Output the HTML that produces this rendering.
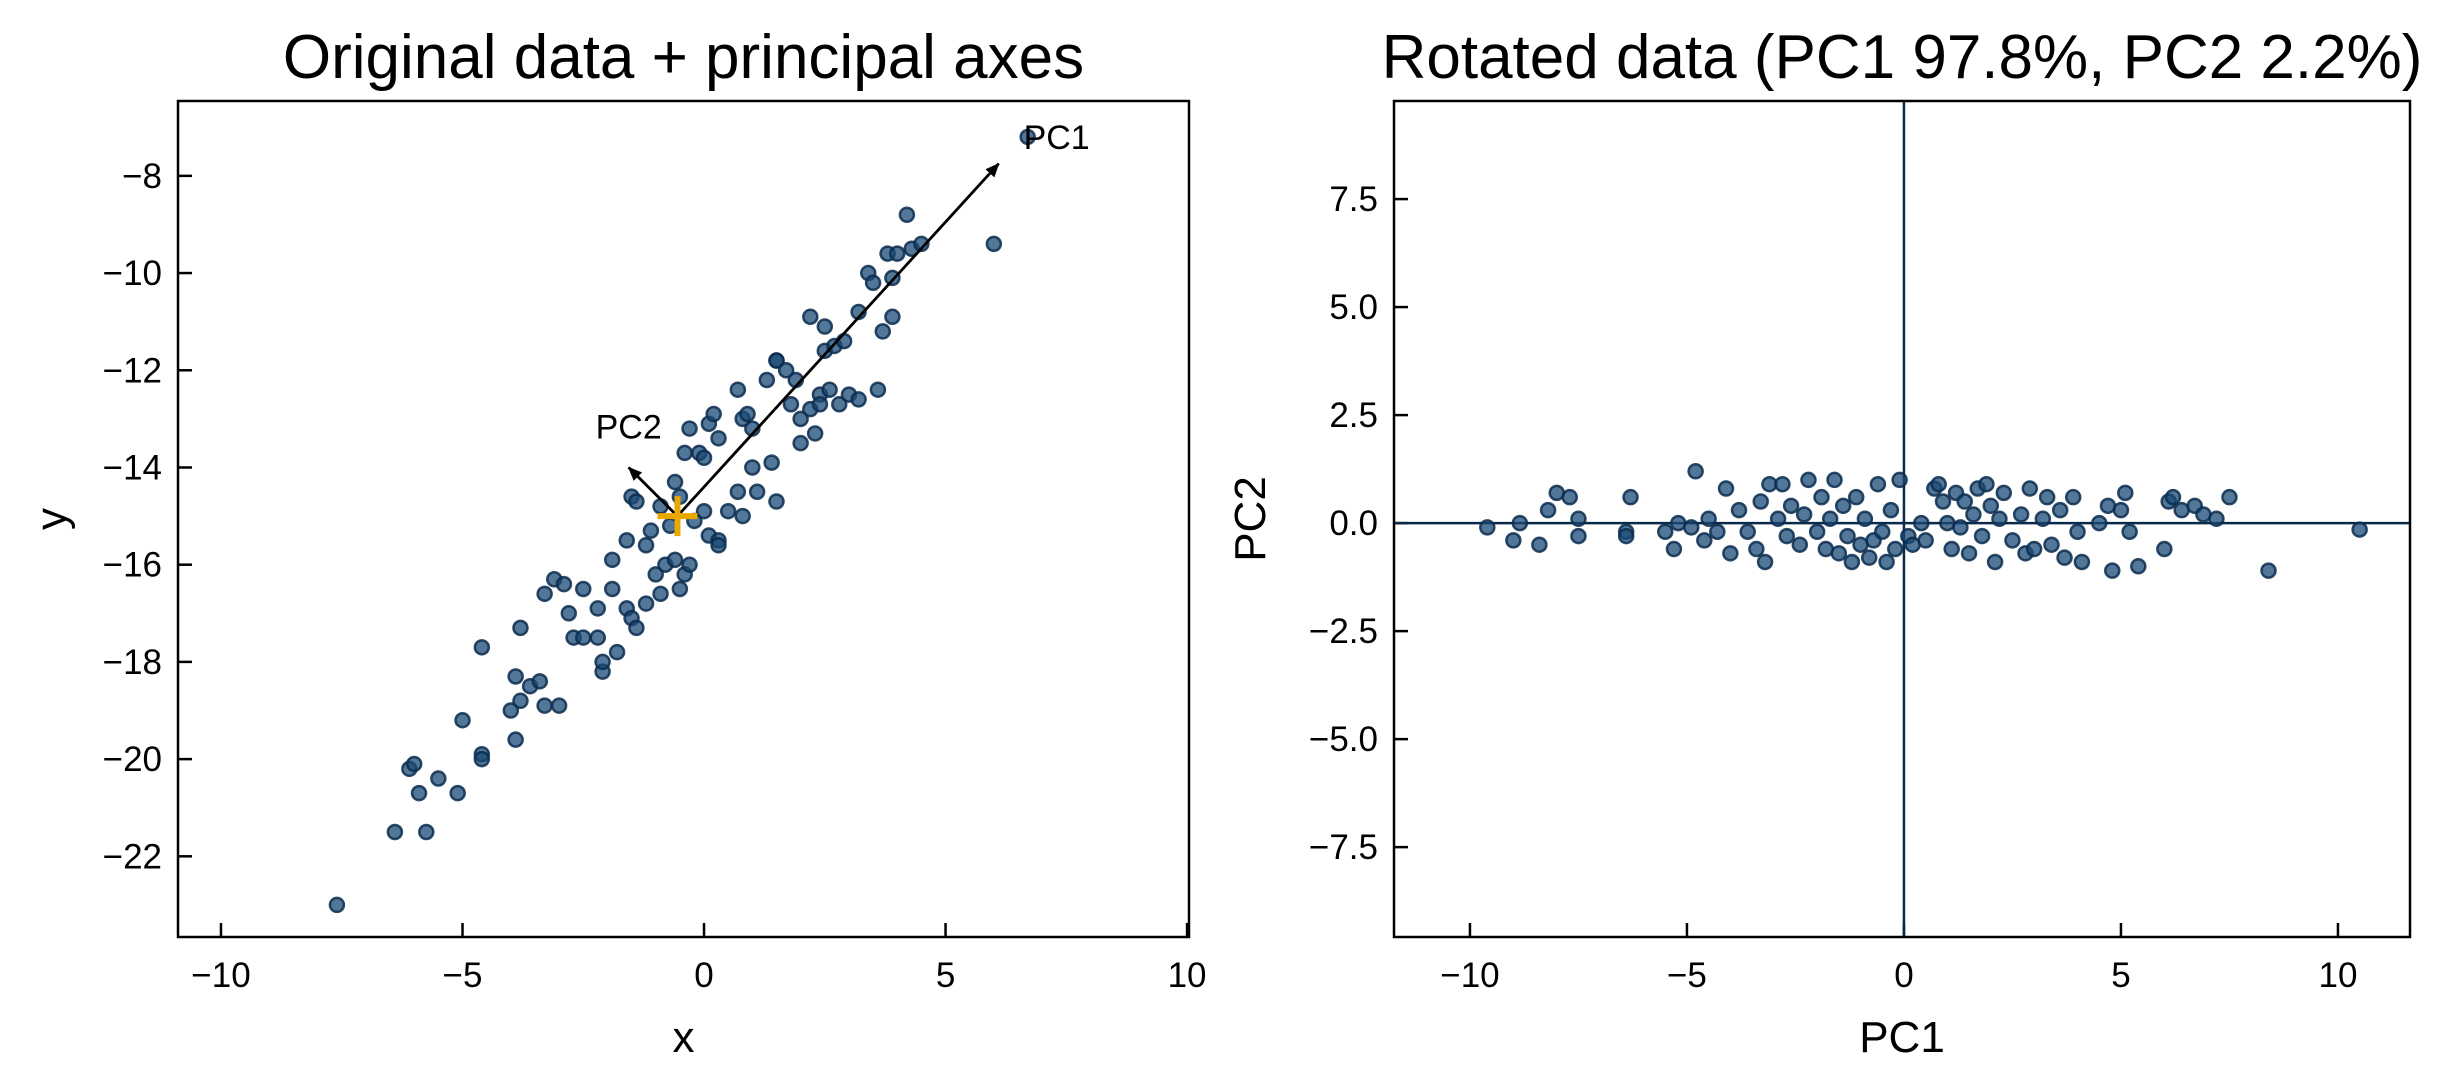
<!DOCTYPE html>
<html><head><meta charset="utf-8"><style>
html,body{margin:0;padding:0;background:#fff}
svg{display:block}
text{font-family:"Liberation Sans",sans-serif;fill:#000}
</style></head><body>
<svg id="fig" width="2454" height="1084" viewBox="0 0 2454 1084" xmlns="http://www.w3.org/2000/svg"></svg>
<script>
const origX=[-7.6,-6.4,-5.75,-6.1,-6.0,-5.9,-5.5,-5.1,-4.6,-4.6,-5.0,-4.0,-3.9,-3.8,-3.6,-3.4,-3.3,-3.0,-3.9,-4.6,-3.8,-3.3,-3.1,-2.9,-2.8,-2.7,-2.5,-2.2,-2.5,-2.2,-2.1,-2.1,-1.9,-1.8,-1.6,-1.5,-1.4,-1.2,-1.9,-1.6,-1.2,-1.1,-1.5,-1.4,-1.0,-0.8,-0.6,-0.4,-0.3,-0.7,-0.9,-0.5,-0.6,-0.4,-0.1,0.0,-0.3,0.1,0.2,0.3,0.1,0.3,0.5,0.7,1.0,1.1,1.4,1.0,0.8,0.7,1.3,0.9,1.5,1.7,1.9,1.8,2.0,2.2,2.4,2.3,2.0,2.4,2.6,2.8,3.0,3.2,2.2,2.5,2.5,2.7,2.9,3.2,3.4,3.5,3.8,3.9,4.0,4.3,4.5,4.2,3.7,3.9,3.6,1.5,0.8,-0.2,0.0,0.3,6.0,6.7,1.5,-0.5,-0.9];
const origY=[-23,-21.5,-21.5,-20.2,-20.1,-20.7,-20.4,-20.7,-19.9,-20.0,-19.2,-19.0,-19.6,-18.8,-18.5,-18.4,-18.9,-18.9,-18.3,-17.7,-17.3,-16.6,-16.3,-16.4,-17.0,-17.5,-17.5,-17.5,-16.5,-16.9,-18.2,-18.0,-16.5,-17.8,-16.9,-17.1,-17.3,-16.8,-15.9,-15.5,-15.6,-15.3,-14.6,-14.7,-16.2,-16.0,-15.9,-16.2,-16.0,-15.2,-14.8,-14.6,-14.3,-13.7,-13.7,-13.8,-13.2,-13.1,-12.9,-13.4,-15.4,-15.5,-14.9,-14.5,-14.0,-14.5,-13.9,-13.2,-13.0,-12.4,-12.2,-12.9,-11.8,-12.0,-12.2,-12.7,-13.0,-12.8,-12.5,-13.3,-13.5,-12.7,-12.4,-12.7,-12.5,-12.6,-10.9,-11.1,-11.6,-11.5,-11.4,-10.8,-10.0,-10.2,-9.6,-10.1,-9.6,-9.5,-9.4,-8.8,-11.2,-10.9,-12.4,-14.7,-15.0,-15.1,-14.9,-15.6,-9.4,-7.2,-11.8,-16.5,-16.6];
const rotX=[-9.6,10.5,-8.85,-8.4,-8.0,-7.7,-8.2,-7.5,-7.5,-6.4,-6.3,-6.4,-5.5,-5.3,-5.2,-4.9,-4.8,-4.6,-4.5,-4.3,-4.1,-4.0,-3.8,-3.6,-3.4,-3.3,-3.2,-3.1,-2.9,-2.8,-2.7,-2.6,-2.4,-2.3,-2.2,-2.0,-1.9,-1.8,-1.7,-1.6,-1.5,-1.4,-1.3,-1.2,-1.1,-1.0,-0.9,-0.8,-0.7,-0.6,-0.5,-0.4,-0.3,-0.2,-0.1,0.1,0.2,0.4,0.5,0.7,0.8,0.9,1.0,1.1,1.2,1.3,1.4,1.5,1.6,1.7,1.8,1.9,2.0,2.1,2.2,2.3,2.5,2.7,2.8,2.9,3.0,3.2,3.3,3.4,3.6,3.7,3.9,4.0,4.1,4.5,4.7,4.8,5.0,5.1,5.2,5.4,6.0,6.1,6.2,6.4,6.7,6.9,7.2,7.5,8.4,-9.0];
const rotY=[-0.1,-0.15,0,-0.5,0.7,0.6,0.3,0.1,-0.3,-0.2,0.6,-0.3,-0.2,-0.6,0.0,-0.1,1.2,-0.4,0.1,-0.2,0.8,-0.7,0.3,-0.2,-0.6,0.5,-0.9,0.9,0.1,0.9,-0.3,0.4,-0.5,0.2,1.0,-0.2,0.6,-0.6,0.1,1.0,-0.7,0.4,-0.3,-0.9,0.6,-0.5,0.1,-0.8,-0.4,0.9,-0.2,-0.9,0.3,-0.6,1.0,-0.3,-0.5,0.0,-0.4,0.8,0.9,0.5,0.0,-0.6,0.7,-0.1,0.5,-0.7,0.2,0.8,-0.3,0.9,0.4,-0.9,0.1,0.7,-0.4,0.2,-0.7,0.8,-0.6,0.1,0.6,-0.5,0.3,-0.8,0.6,-0.2,-0.9,0.0,0.4,-1.1,0.3,0.7,-0.2,-1.0,-0.6,0.5,0.6,0.3,0.4,0.2,0.1,0.6,-1.1,-0.4];
const meanPt=[-0.55,-15.0];
const pc1Tip=[6.1,-7.75];
const pc2Tip=[-1.56,-14.0];
const leftXTicks=[-10,-5,0,5,10];
const leftYTicks=[-8,-10,-12,-14,-16,-18,-20,-22];
const rightXTicks=[-10,-5,0,5,10];
const rightYTicks=[7.5,5.0,2.5,0.0,-2.5,-5.0,-7.5];

const NS='http://www.w3.org/2000/svg';
const svg=document.getElementById('fig');
function mk(tag,attrs,parent,name,inter){const e=document.createElementNS(NS,tag);for(const k in attrs)e.setAttribute(k,attrs[k]);


(parent||svg).appendChild(e);return e;}
function fmt(v,dec){let s=dec?v.toFixed(1):String(v);return s.replace('-','\u2212');}
function txt(g,x,y,s,size,name,anchor,rot){const a={x:x,y:y,'font-size':size,'text-anchor':anchor||'middle'};if(rot)a.transform=rot;const t=mk('text',a,g,name,false);t.textContent=s;return t;}

function panel(cfg){
  const g=mk('g',{},svg,cfg.name,false);
  const sx=v=>cfg.L+(v-cfg.x0)/(cfg.x1-cfg.x0)*(cfg.R-cfg.L);
  const sy=v=>cfg.B-(v-cfg.y0)/(cfg.y1-cfg.y0)*(cfg.B-cfg.T);
  cfg.xt.forEach(t=>{const x=sx(t);
    mk('line',{x1:x,x2:x,y1:cfg.B,y2:cfg.B-14,stroke:'#000','stroke-width':2.5},g,'x-tick',false);
    txt(g,x,cfg.B+50,fmt(t,cfg.dec),35,'x-tick-label');});
  cfg.yt.forEach(t=>{const y=sy(t);
    mk('line',{x1:cfg.L,x2:cfg.L+14,y1:y,y2:y,stroke:'#000','stroke-width':2.5},g,'y-tick',false);
    txt(g,cfg.L-16,y+12,fmt(t,cfg.dec),35,'y-tick-label','end');});
  return {g,sx,sy};
}
function frame(g,cfg){mk('rect',{x:cfg.L,y:cfg.T,width:cfg.R-cfg.L,height:cfg.B-cfg.T,fill:'none',stroke:'#000','stroke-width':2.5},g,'plot-frame',false);}
function dots(g,xs,ys,sx,sy,name){xs.forEach((v,i)=>{mk('circle',{cx:sx(v),cy:sy(ys[i]),r:7,fill:'#1a4a75','fill-opacity':0.75,stroke:'#0a2c4e','stroke-width':2.5,'stroke-opacity':0.85},g,name,false);});}

const defs=mk('defs',{},svg,'defs',false);
const m=mk('marker',{id:'ah',markerWidth:14,markerHeight:12,refX:13,refY:6,orient:'auto',markerUnits:'userSpaceOnUse'},defs,'arrowhead',false);
mk('path',{d:'M0,0 L14,6 L0,12 Z',fill:'#000'},m,'arrowhead-shape',false);

const lc={name:'left-panel',L:178,R:1189,T:101,B:937,x0:-10.89,x1:10.04,y0:-23.66,y1:-6.46,xt:leftXTicks,yt:leftYTicks,dec:false};
const lp=panel(lc);
dots(lp.g,origX,origY,lp.sx,lp.sy,'data-point');
mk('line',{x1:lp.sx(meanPt[0]),y1:lp.sy(meanPt[1]),x2:lp.sx(pc1Tip[0]),y2:lp.sy(pc1Tip[1]),stroke:'#000','stroke-width':2.8,'marker-end':'url(#ah)'},lp.g,'pc1-arrow',false);
mk('line',{x1:lp.sx(meanPt[0]),y1:lp.sy(meanPt[1]),x2:lp.sx(pc2Tip[0]),y2:lp.sy(pc2Tip[1]),stroke:'#000','stroke-width':2.8,'marker-end':'url(#ah)'},lp.g,'pc2-arrow',false);
const mx=lp.sx(meanPt[0]),my=lp.sy(meanPt[1]);
mk('line',{x1:mx-20,x2:mx+20,y1:my,y2:my,stroke:'#e8a800','stroke-width':6},lp.g,'mean-marker-h',false);
mk('line',{x1:mx,x2:mx,y1:my-20,y2:my+20,stroke:'#e8a800','stroke-width':6},lp.g,'mean-marker-v',false);
txt(lp.g,lp.sx(7.3),lp.sy(-7.45),'PC1',34,'pc1-label');
txt(lp.g,lp.sx(-1.56),lp.sy(-13.4),'PC2',34,'pc2-label');
frame(lp.g,lc);
txt(lp.g,(lc.L+lc.R)/2,78,'Original data + principal axes',62,'left-title');
txt(lp.g,(lc.L+lc.R)/2,1052,'x',44,'x-axis-title');
txt(lp.g,66,(lc.T+lc.B)/2,'y',44,'y-axis-title','middle','rotate(-90 66 '+(lc.T+lc.B)/2+')');

const rc={name:'right-panel',L:1394,R:2410,T:101,B:937,x0:-11.75,x1:11.66,y0:-9.58,y1:9.77,xt:rightXTicks,yt:rightYTicks,dec:true};
const rp=panel(Object.assign({},rc,{xt:[],yt:[]}));
rc.xt.forEach(t=>{const x=rp.sx(t);mk('line',{x1:x,x2:x,y1:rc.B,y2:rc.B-14,stroke:'#000','stroke-width':2.5},rp.g,'x-tick',false);txt(rp.g,x,rc.B+50,fmt(t,false),35,'x-tick-label');});
rc.yt.forEach(t=>{const y=rp.sy(t);mk('line',{x1:rc.L,x2:rc.L+14,y1:y,y2:y,stroke:'#000','stroke-width':2.5},rp.g,'y-tick',false);txt(rp.g,rc.L-16,y+12,fmt(t,true),35,'y-tick-label','end');});
mk('line',{x1:rc.L,x2:rc.R,y1:rp.sy(0),y2:rp.sy(0),stroke:'#0a2a4a','stroke-width':2.5},rp.g,'zero-hline',false);
mk('line',{x1:rp.sx(0),x2:rp.sx(0),y1:rc.T,y2:rc.B,stroke:'#0a2a4a','stroke-width':2.5},rp.g,'zero-vline',false);
dots(rp.g,rotX,rotY,rp.sx,rp.sy,'rotated-point');
frame(rp.g,rc);
txt(rp.g,(rc.L+rc.R)/2,78,'Rotated data (PC1 97.8%, PC2 2.2%)',62,'right-title');
txt(rp.g,(rc.L+rc.R)/2,1052,'PC1',44,'pc1-axis-title');
txt(rp.g,1265,(rc.T+rc.B)/2,'PC2',44,'pc2-axis-title','middle','rotate(-90 1265 '+(rc.T+rc.B)/2+')');
</script>
</body></html>
